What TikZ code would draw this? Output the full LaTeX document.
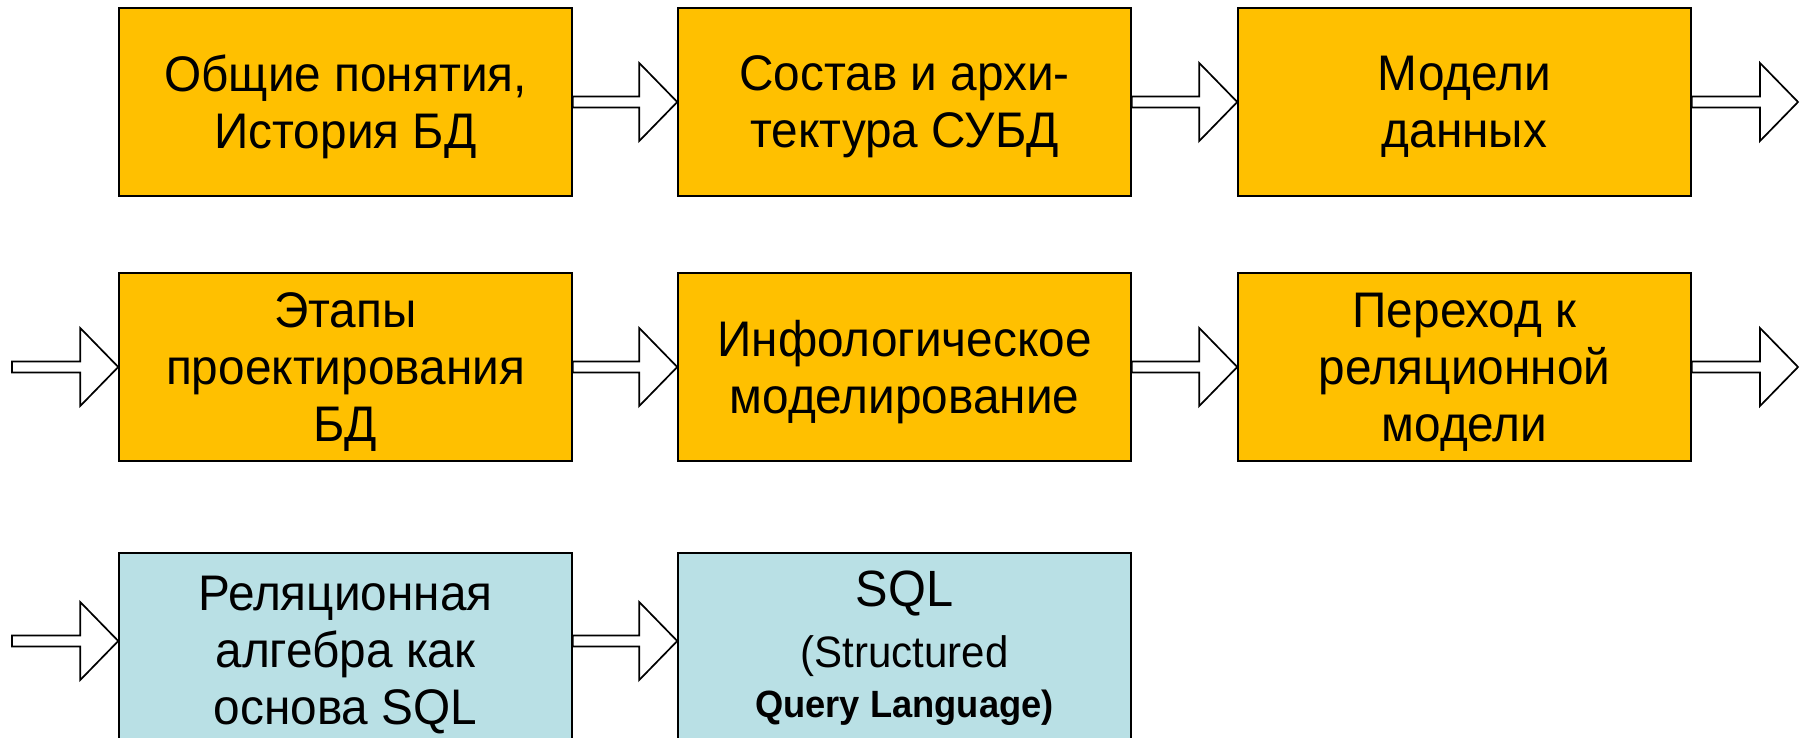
\documentclass[tikz,border=0pt]{standalone}
\usepackage{fontspec}
\setmainfont{Liberation Sans}[FakeStretch=0.955]
\usetikzlibrary{calc}
\definecolor{boxorange}{RGB}{255,192,0}
\definecolor{boxblue}{RGB}{185,224,229}
\tikzset{
  stagebox/.style={draw=black, line width=1.5pt, minimum width=453pt, minimum height=188pt,
    inner sep=0pt},
  orangebox/.style={stagebox, fill=boxorange},
  bluebox/.style={stagebox, fill=boxblue},
  boxlabel/.style={align=center, inner sep=0pt, yshift=-5pt,
    font=\fontsize{50}{57}\selectfont},
  fatarrow/.style={draw=black, fill=white, line width=1.7pt, line join=miter,
    to path={let \p1=(\tikztostart), \p2=(\tikztotarget) in
      (\x1,\y1+5.5pt) -- (\x2-38pt,\y1+5.5pt) -- (\x2-38pt,\y1+39pt) -- (\x2,\y1)
      -- (\x2-38pt,\y1-39pt) -- (\x2-38pt,\y1-5.5pt) -- (\x1,\y1-5.5pt) -- cycle}}
}
\begin{document}
\begin{tikzpicture}[x=1pt,y=-1pt]
\useasboundingbox (0,0) rectangle (1806,738);
\begin{scope}
\clip (0,0) rectangle (1806,738);
% row 1
\node[orangebox, label={[boxlabel]center:{Общие понятия,\\История БД}}] (a1) at (345.5,102) {};
\node[orangebox, label={[boxlabel]center:{Состав и архи-\\тектура СУБД}}] (a2) at (904.5,102) {};
\node[orangebox, label={[boxlabel]center:{Модели\\данных}}] (a3) at (1464.5,102) {};
% row 2
\node[orangebox, label={[boxlabel]center:{Этапы\\проектирования\\БД}}] (b1) at (345.5,367) {};
\node[orangebox, label={[boxlabel]center:{Инфологическое\\моделирование}}] (b2) at (904.5,367) {};
\node[orangebox, label={[boxlabel]center:{Переход к\\реляционной\\модели}}] (b3) at (1464.5,367) {};
% row 3
\node[bluebox, label={[boxlabel, yshift=-3pt]center:{Реляционная\\алгебра как\\основа SQL}}] (c1) at (345.5,647) {};
\node[bluebox, label={[boxlabel, yshift=3.5pt]center:{\fontsize{51}{57}\selectfont SQL\\[4pt]
  \fontsize{44}{57}\selectfont (Structured\\[-7pt]
  \fontsize{38}{57}\selectfont\bfseries Query Language)}}] (c2) at (904.5,647) {};
% free ends
\coordinate (o1) at (1798,102);
\coordinate (i2) at (12,367);
\coordinate (o2) at (1798,367);
\coordinate (i3) at (12,641);
% arrows
\draw[fatarrow] (a1.east) to (a2.west);
\draw[fatarrow] (a2.east) to (a3.west);
\draw[fatarrow] (a3.east) to (o1);
\draw[fatarrow] (i2) to (b1.west);
\draw[fatarrow] (b1.east) to (b2.west);
\draw[fatarrow] (b2.east) to (b3.west);
\draw[fatarrow] (b3.east) to (o2);
\draw[fatarrow] (i3) to ([yshift=6pt]c1.west);
\draw[fatarrow] ([yshift=6pt]c1.east) to ([yshift=6pt]c2.west);
\end{scope}
\end{tikzpicture}
\end{document}
